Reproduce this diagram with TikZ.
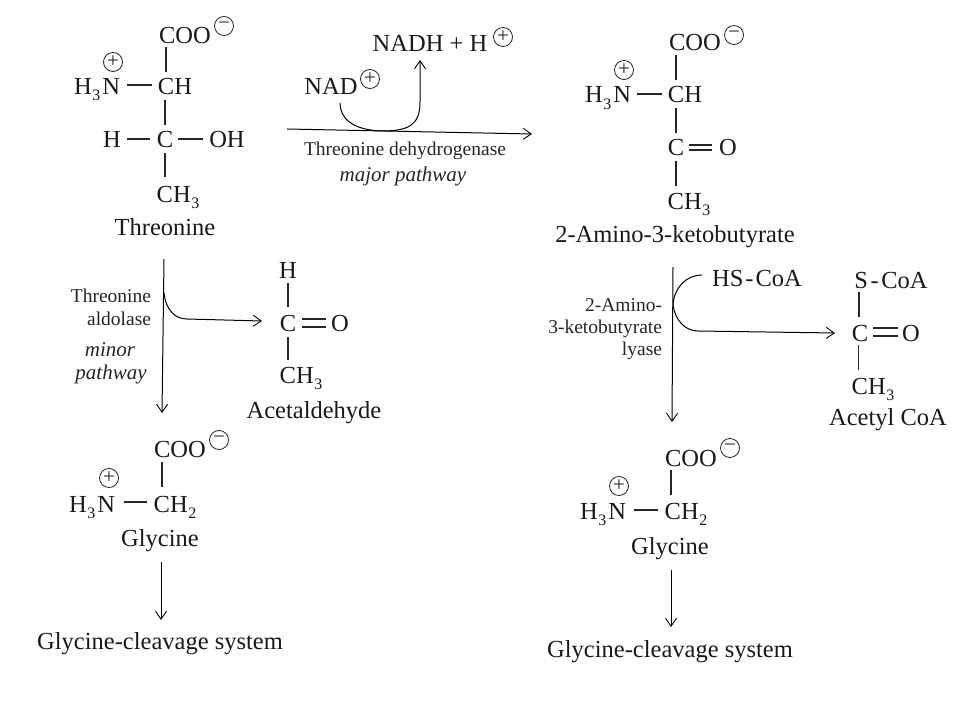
\documentclass[tikz,border=0pt]{standalone}
\usepackage{fontspec}
\setmainfont{Liberation Serif}
\usetikzlibrary{arrows.meta}
\newcommand{\subn}[1]{\kern0.5pt\raisebox{-6pt}{\fontsize{16}{16}\selectfont #1}}
\tikzset{
  chem/.style={anchor=base,inner sep=0pt,outer sep=0pt,text=black!90,font=\fontsize{24.5}{26}\selectfont},
  enz/.style={anchor=base,inner sep=0pt,outer sep=0pt,text=black!85,font=\fontsize{19.5}{22}\selectfont},
  enzr/.style={enz,anchor=base east},
  path name/.style={anchor=base,inner sep=0pt,outer sep=0pt,text=black!85,font=\fontsize{21}{22}\selectfont\itshape},
  chg/.style={circle,draw=black!85,line width=0.8pt,inner sep=0pt,minimum size=19pt,text=black!85,font=\fontsize{21}{21}\selectfont},
  bond/.style={draw=black!85,line width=1.1pt},
  flow/.style={draw=black,line width=1.0pt,-{Straight Barb[length=8pt,width=11pt,line width=0.9pt]}},
  flowb/.style={draw=black,line width=1.0pt},
}
\begin{document}
\begin{tikzpicture}[x=1pt,y=-1pt]
\useasboundingbox (0,0) rectangle (953,706);
\fill[white] (0,0) rectangle (953,706);

% --- Threonine
\node[chem] (coo1) at (185,44) {COO};
\node[chg] (m1) at (224,26) {−};
\node[chg] (p1) at (113,62) {+};
\node[chem] (n1) at (97,95) {H\subn{3}\kern2pt N};
\node[chem] (ch1) at (175,95) {CH};
\node[chem] (h1) at (112,148) {H};
\node[chem] (c1) at (165,148) {C};
\node[chem] (oh1) at (227,148) {OH};
\node[chem] (me1) at (178,202) {CH\subn{3}};
\node[chem] (thr) at (165,235) {Threonine};
\draw[bond] ([shift={(-19,3)}]coo1.base) -- ([shift={(-9,-23)}]ch1.base);
\draw[bond] ([shift={(30,-10)}]n1.base) -- ([shift={(-23,-10)}]ch1.base);
\draw[bond] ([shift={(-10,5)}]ch1.base) -- ([shift={(0,-23)}]c1.base);
\draw[bond] ([shift={(15,-9)}]h1.base) -- ([shift={(-15,-9)}]c1.base);
\draw[bond] ([shift={(13,-9)}]c1.base) -- ([shift={(-24,-9)}]oh1.base);
\draw[bond] ([shift={(0,5)}]c1.base) -- ([shift={(-13,-25)}]me1.base);

% --- Major pathway
\node[chem] (nadh) at (430,52) {NADH + H};
\node[chg] (p2) at (503,37) {+};
\node[chem] (nad) at (331,95) {NAD};
\node[chg] (p3) at (370,79) {+};
\node[enz] (tdh) at (405,155) {Threonine dehydrogenase};
\node[path name] (maj) at (403,182) {major pathway};
\coordinate (ma) at (287,129);
\coordinate (mb) at (532,134);
\coordinate (mc) at (382,131);
\draw[flow] (ma) -- (mb);
\draw[flowb] ([shift={(9,8)}]nad.base) .. controls (340,118) and (352,130) .. (mc);
\draw[flow] (mc) .. controls (410,131) and (420,124) .. (420,102) -- ([shift={(-10,8)}]nadh.base);

% --- 2-Amino-3-ketobutyrate
\node[chem] (coo2) at (695,51) {COO};
\node[chg] (m2) at (734,35) {−};
\node[chg] (p4) at (624,70) {+};
\node[chem] (n2) at (608,103) {H\subn{3}\kern2pt N};
\node[chem] (ch2) at (685,103) {CH};
\node[chem] (c2) at (676,156) {C};
\node[chem] (o2) at (728,156) {O};
\node[chem] (me2) at (689,209) {CH\subn{3}};
\node[chem] (akb) at (675,242) {2-Amino-3-ketobutyrate};
\draw[bond] ([shift={(-19,4)}]coo2.base) -- ([shift={(-9,-23)}]ch2.base);
\draw[bond] ([shift={(29,-9)}]n2.base) -- ([shift={(-23,-9)}]ch2.base);
\draw[bond] ([shift={(-9,5)}]ch2.base) -- ([shift={(0,-23)}]c2.base);
\draw[bond] ([shift={(13,-11)}]c2.base) -- ([shift={(-16,-11)}]o2.base);
\draw[bond] ([shift={(13,-6)}]c2.base) -- ([shift={(-16,-6)}]o2.base);
\draw[bond] ([shift={(0,5)}]c2.base) -- ([shift={(-13,-23)}]me2.base);

% --- Lyase branch
\node[enzr] (ly1) at (662,311) {2-Amino-};
\node[enzr] (ly2) at (662,333) {3-ketobutyrate};
\node[enzr] (ly3) at (662,355) {lyase};
\node[chem] (hs) at (757,286) {HS\kern2pt-\kern2pt CoA};
\node[chem] (sc) at (891,288) {S\kern2.5pt-\kern2.5pt CoA};
\node[chem] (c3) at (860,341) {C};
\node[chem] (o3) at (911,341) {O};
\node[chem] (me3) at (873,394) {CH\subn{3}};
\node[chem] (acc) at (888,425) {Acetyl CoA};
\draw[bond] ([shift={(-32,4)}]sc.base) -- ([shift={(-1,-24)}]c3.base);
\draw[bond] ([shift={(13,-13)}]c3.base) -- ([shift={(-13,-13)}]o3.base);
\draw[bond] ([shift={(13,-5)}]c3.base) -- ([shift={(-13,-5)}]o3.base);
\draw[bond] ([shift={(-1.5,4)}]c3.base) -- ([shift={(-14.5,-24)}]me3.base);
\coordinate (ra) at (673,267);
\coordinate (rb) at (672,422);
\coordinate (rc) at (673,305);
\coordinate (rd) at (835,333);
\draw[flow] (ra) -- (rb);
\draw[flowb] ([shift={(-55,-11)}]hs.base) .. controls (686,275) and (674,288) .. (rc);
\draw[flow] (rc) .. controls (675,320) and (685,331) .. (698,331) -- (rd);

% --- Glycine right
\node[chem] (coo4) at (691,466) {COO};
\node[chg] (m4) at (730,448) {−};
\node[chg] (p6) at (619,486) {+};
\node[chem] (n4) at (603,519) {H\subn{3}\kern2pt N};
\node[chem] (ch4) at (686,519) {CH\subn{2}};
\node[chem] (gly2) at (670,554) {Glycine};
\node[chem] (gcs2) at (670,657) {Glycine-cleavage system};
\draw[bond] ([shift={(-20,4)}]coo4.base) -- ([shift={(-15,-24)}]ch4.base);
\draw[bond] ([shift={(31,-9)}]n4.base) -- ([shift={(-28,-9)}]ch4.base);
\coordinate (ge) at (671,570);
\coordinate (gf) at (671,627);
\draw[flow] (ge) -- (gf);

% --- Threonine aldolase branch
\node[enzr] (al1) at (151,302) {Threonine};
\node[enzr] (al2) at (151,325) {aldolase};
\node[path name] (mi1) at (110,356) {minor};
\node[path name] (mi2) at (111,379) {pathway};
\node[chem] (h3) at (288,278) {H};
\node[chem] (c4) at (288,331) {C};
\node[chem] (o4) at (340,331) {O};
\node[chem] (me4) at (301,383) {CH\subn{3}};
\node[chem] (ace) at (314,418) {Acetaldehyde};
\draw[bond] ([shift={(0,5)}]h3.base) -- ([shift={(0,-24)}]c4.base);
\draw[bond] ([shift={(14,-12)}]c4.base) -- ([shift={(-14,-12)}]o4.base);
\draw[bond] ([shift={(14,-4)}]c4.base) -- ([shift={(-14,-4)}]o4.base);
\draw[bond] ([shift={(0,6)}]c4.base) -- ([shift={(-13,-23)}]me4.base);
\coordinate (la) at (164,259);
\coordinate (lb) at (162,413);
\coordinate (lc) at (164,293);
\coordinate (ld) at (262,321);
\draw[flow] (la) -- (lb);
\draw[flow] (lc) .. controls (166,310) and (175,319) .. (187,319) -- (ld);

% --- Glycine left
\node[chem] (coo3) at (180,457) {COO};
\node[chg] (m3) at (219,440) {−};
\node[chg] (p5) at (109,478) {+};
\node[chem] (n3) at (92,512) {H\subn{3}\kern2pt N};
\node[chem] (ch3) at (175,512) {CH\subn{2}};
\node[chem] (gly1) at (160,546) {Glycine};
\node[chem] (gcs1) at (160,649) {Glycine-cleavage system};
\draw[bond] ([shift={(-18,5)}]coo3.base) -- ([shift={(-13,-25)}]ch3.base);
\draw[bond] ([shift={(32,-10)}]n3.base) -- ([shift={(-28,-10)}]ch3.base);
\coordinate (gc) at (161,562);
\coordinate (gd) at (161,620);
\draw[flow] (gc) -- (gd);
\end{tikzpicture}
\end{document}
